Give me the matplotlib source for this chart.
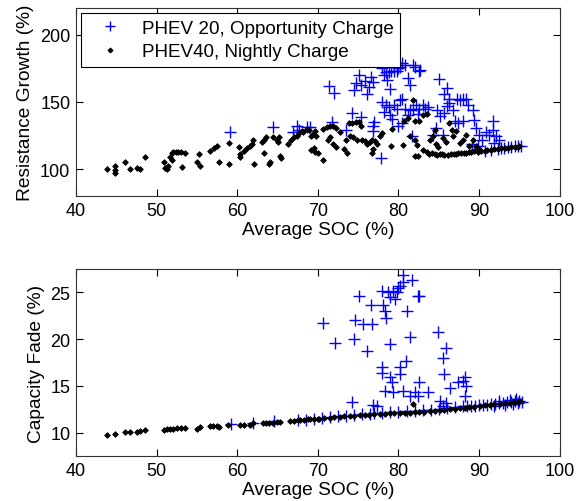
import matplotlib
matplotlib.use("Agg")
import matplotlib.pyplot as plt

plt.rcParams['font.family'] = ['Liberation Sans', 'DejaVu Sans']

# ---------------- Top panel: Resistance growth ----------------
top_black_soc = [43.9, 44.8, 44.8, 44.9, 46.1, 46.7, 47.6, 48.0, 48.6,
                 50.9, 51.1, 51.3, 51.4, 51.7, 51.9, 52.1, 52.4, 52.7, 53.0, 53.5, 51.9, 53.1,
                 55.0, 55.4, 55.3, 56.6, 57.1, 57.5, 57.8, 59.0, 59.0,
                 60.2, 60.3, 60.4, 60.8, 61.2, 61.6, 61.8, 62.0, 62.1,
                 63.1, 63.3, 63.6, 63.3, 64.0, 64.1, 64.5, 64.9, 65.1, 65.2, 65.3, 65.4,
                 66.3, 66.7, 67.0, 67.4, 67.7, 68.0, 68.2, 68.6, 68.9,
                 69.1, 69.4, 69.6, 69.8, 69.2, 69.5, 69.7, 70.0, 70.6,
                 70.7, 71.1, 71.5, 71.9, 72.3, 71.3, 71.5, 71.9, 72.3, 72.7,
                 73.3, 73.6, 73.5, 74.0, 74.4, 74.8, 73.9, 74.3, 74.7, 75.1, 75.3,
                 75.5, 75.9, 76.1, 76.5, 76.7, 77.1, 77.3, 76.7, 76.9, 77.7, 78.0, 79.1, 80.6,
                 80.7, 81.2, 79.2, 81.8, 82.1, 83.0, 81.4, 82.1, 82.3, 82.1, 82.4,
                 83.1, 83.5, 84.1, 84.5, 85.1, 85.7, 86.5, 87.1, 87.8, 88.4, 89.0, 89.9,
                 90.7, 91.5, 92.3, 93.2, 94.0, 94.8,
                 83.8, 84.8, 85.4, 86.1, 86.9, 87.4, 88.1, 88.8, 89.4, 90.2, 91.0, 91.8,
                 92.7, 93.6, 94.4, 95.0,
                 83.9, 84.3, 84.7, 84.9, 85.5, 85.9, 86.3, 86.7, 87.1, 87.6, 88.0, 88.4,
                 88.8, 89.2, 89.6, 90.0, 82.6, 83.5, 84.5, 86.6]
top_black_rg = [100, 102.5, 96.8, 99.3, 105, 100, 101, 100, 109,
                105, 100.5, 100, 102.5, 109, 111.7, 113, 113, 113, 113, 112, 106.7, 101.7,
                105, 102.5, 111, 113.7, 115.4, 117.4, 105, 104, 119.7,
                116.7, 111.2, 109, 113.7, 115.4, 117.4, 118.7, 122, 103.5,
                120.4, 122, 123.6, 112, 104, 105.5, 123.6, 121.6, 120, 123.6, 110, 108,
                119, 122, 123.6, 125, 126.6, 128.6, 127.9, 129.6, 129,
                125, 126, 128.6, 124.6, 114, 115.4, 113, 112, 106.7,
                130, 131.6, 132, 132, 130.3, 121.6, 124, 119, 116.7, 127.9,
                114.7, 112, 121.6, 124.6, 123.6, 122, 134, 134.6, 135.3, 135.3, 132,
                122, 120.8, 119, 120, 122, 120.8, 119, 112, 114.7, 124.6, 126.6, 117, 117.7,
                135.5, 138, 130, 151.5, 135.5, 140.3, 125, 121.6, 118, 109.5, 109.5,
                114, 112.7, 112, 111, 111, 110.3, 111, 111, 111.7, 111.7, 113, 113,
                113.4, 114.2, 115, 115.4, 116.2, 116.7,
                111.5, 110.5, 111.5, 110.8, 111.3, 112, 112, 112.5, 113.2, 113.5, 114, 114.8,
                115.6, 116, 116.4, 117,
                121.6, 124.6, 119, 116.7, 122.9, 120.4, 134.3, 124.6, 128.4, 119.6, 122, 125.7,
                117, 122, 117, 114.7, 136, 141, 129, 129]

top_blue_soc = [59.1, 64.5, 66.9, 67.4, 67.7, 68.7, 69.0,
                71.4, 72.0, 71.8, 73.5, 74.2,
                74.5, 74.7, 75.1, 75.4, 75.8, 76.1, 76.4, 76.6, 76.8,
                75.4, 76.8, 77.0, 76.8, 77.8,
                78.0, 78.2, 78.4, 78.6, 78.8, 79.1, 79.4, 79.8, 80.0, 80.2, 80.4, 80.8,
                81.2, 81.4, 81.8, 82.1, 82.5, 82.7, 79.0,
                78.0, 78.2, 78.4, 78.8, 79.0, 79.2, 79.4, 79.8, 80.2, 80.4, 80.8, 81.2,
                81.4, 81.8, 82.2, 82.6, 83.0, 83.3, 83.7,
                80.0, 80.4, 81.7, 82.4,
                85.0, 85.6, 86.0, 86.3,
                84.8, 85.2, 85.6, 86.0, 86.3, 86.8,
                87.2, 87.6, 88.0, 88.4, 88.6, 89.2, 89.4,
                87.0, 87.4, 88.0,
                89.6, 90.0, 90.4, 90.8, 91.2, 91.7, 91.7, 92.1, 92.5, 91.9,
                89.1, 89.9, 84.3, 84.7, 85.5,
                90.7, 91.5, 92.3, 93.1, 94.0, 94.8, 95.2, 93.6, 94.4, 92.7]
top_blue_rg = [128, 131.6, 128, 132, 129, 131.6, 131.6,
               162, 157, 135, 129, 141.5,
               159, 164, 170, 163, 165.7, 156, 161, 168.7, 165,
               139, 132, 135.3, 128.4, 108,
               175, 170, 172, 166, 172, 173, 173, 173, 175, 176, 179, 177.5,
               167.5, 162.5, 177.5, 176, 173, 173.5, 160,
               150, 142.5, 147.5, 146.3, 140, 137.5, 147.5, 145, 151.3, 152.5, 145, 140,
               143.8, 145, 147.5, 145, 147.5, 145, 146.3,
               132, 134.6, 124.6, 140.8,
               167, 155.6, 160.7, 152,
               144.3, 139.3, 141.8, 146.8, 149.3, 144.3,
               152.5, 151.3, 152.5, 152.5, 147.5, 143.8, 136.3,
               135.5, 134.3, 135.5,
               130.6, 125.7, 122, 128, 125.7, 135.5, 129.3, 124.4, 122, 119.6,
               118.4, 117.2, 125.7, 130.6, 125.7,
               113.7, 114.4, 114.9, 115.7, 116.2, 116.9, 117.2, 116.5, 117, 116]

# ---------------- Bottom panel: Capacity fade ----------------
bot_black_soc = [43.9, 44.8, 46.1, 46.7, 47.6, 48.0, 48.6, 50.9, 51.3, 51.7, 52.0, 52.5, 53.0, 53.5,
                 55.0, 55.4, 56.6, 57.0, 57.5, 57.8, 58.9, 60.3, 60.8, 61.6, 62.0, 63.2, 63.6,
                 64.0, 64.5, 65.0, 65.3, 66.5, 67.0, 67.5, 67.8, 68.3, 68.8, 69.0, 69.5, 70.0,
                 70.2, 70.8, 71.5, 72.0, 72.7, 73.2, 74.0, 74.5, 75.2, 75.8, 76.4, 77.0, 77.7,
                 78.3, 78.9, 79.5, 80.2, 80.8, 81.4, 81.8, 82.0, 82.6, 83.2, 83.9, 84.5, 85.1,
                 85.7, 86.4, 87.0, 87.6, 88.2, 88.8, 89.4, 90.1, 90.7, 91.3, 91.9, 92.6,
                 93.2, 93.8, 94.3, 94.8, 95.1]
bot_black_cf = [9.8, 9.9, 10.07, 10.1, 10.1, 10.15, 10.25, 10.3, 10.35, 10.4, 10.4, 10.45, 10.45, 10.46,
                10.4, 10.6, 10.7, 10.7, 10.72, 10.65, 10.8, 10.8, 10.83, 10.86, 11.0, 11.07, 11.05,
                11.07, 11.07, 11.1, 11.14, 11.25, 11.28, 11.32, 11.36, 11.4, 11.42, 11.43, 11.45, 11.48,
                11.5, 11.55, 11.6, 11.65, 11.7, 11.73, 11.8, 11.82, 11.86, 11.9, 11.93, 11.96, 12.0,
                12.03, 12.07, 12.1, 12.14, 12.15, 12.14, 13.1, 12.18, 12.2, 12.25, 12.3, 12.35, 12.4,
                12.45, 12.5, 12.55, 12.6, 12.65, 12.7, 12.78, 12.86, 12.93, 13.0, 13.05, 13.1,
                13.15, 13.2, 13.25, 13.3, 13.35]

bot_blue_soc = [70.7, 72.1, 75.1, 74.6, 74.5, 75.6, 76.7, 76.6, 76.1, 74.2,
                77.9, 78.1, 78.3, 78.4, 78.7, 79.0, 79.3, 79.6, 79.8, 80.0, 80.2, 80.5, 80.5,
                81.0, 81.7, 81.4, 82.4, 82.6, 78.9, 77.9, 77.9, 79.0, 79.2, 80.2, 80.2, 80.9,
                78.3, 79.3, 80.6, 81.4, 82.0, 82.4, 82.6, 83.7, 76.9, 77.3,
                84.9, 85.5, 85.9, 85.7, 86.4, 87.4, 88.0, 88.2, 88.4, 88.2, 85.1, 85.9,
                59.2, 62.0, 64.6, 67.5, 68.5, 69.5, 70.5, 71.5, 72.5, 73.5, 74.5, 75.5, 76.5,
                77.0, 78.0, 79.0, 80.0, 81.0, 82.0, 83.0, 84.0, 85.0, 85.5, 86.0, 87.0, 88.0,
                88.5, 89.0, 89.5, 90.0, 90.5, 91.0, 91.5, 92.0, 92.5, 93.0, 93.5, 94.0, 94.5,
                95.0, 95.3, 91.8, 93.2, 94.2, 94.8, 92.5, 93.8, 94.6]
bot_blue_cf = [21.7, 19.6, 24.6, 22.1, 20.0, 21.6, 21.6, 23.6, 18.75, 13.3,
               25.2, 23.6, 23.0, 22.3, 25.0, 24.5, 25.2, 24.3, 25.0, 25.5, 25.7, 26.1, 26.9,
               23.0, 26.3, 20.2, 24.6, 24.6, 19.5, 17.0, 16.4, 15.9, 15.4, 17.0, 16.25, 17.7,
               14.5, 14.3, 14.5, 13.9, 14.3, 13.9, 15.4, 14.3, 13.0, 12.9,
               20.8, 18.0, 19.1, 16.25, 14.8, 15.4, 15.5, 15.9, 15.0, 13.9, 13.4, 13.2,
               10.9, 11.0, 11.2, 11.35, 11.4, 11.5, 11.55, 11.65, 11.75, 11.8, 11.9, 12.0, 12.0,
               12.1, 12.1, 12.2, 12.2, 12.3, 12.3, 12.4, 12.45, 12.55, 12.9, 12.6, 12.7, 12.8,
               12.8, 12.9, 12.85, 12.95, 13.0, 13.0, 13.1, 13.1, 13.2, 13.2, 13.3, 13.3, 13.4,
               13.4, 13.3, 12.9, 13.0, 13.1, 13.2, 13.4, 13.5, 13.55]

label_blue = "PHEV 20, Opportunity Charge"
label_black = "PHEV40, Nightly Charge"
xticks = [40, 50, 60, 70, 80, 90, 100]
top_yticks = [100, 150, 200]
bot_yticks = [10, 15, 20, 25]

fig = plt.figure(figsize=(5.88, 5.02), dpi=100)
ax1 = fig.add_axes([0.129, 0.6076, 0.823, 0.3745])
ax2 = fig.add_axes([0.129, 0.0896, 0.823, 0.3725])

fs_tick = 13
fs_lab = 13.8
blue_kw = dict(linestyle='none', marker='+', color=(0, 0, 1), markersize=8, markeredgewidth=1.0)
black_kw = dict(linestyle='none', marker='D', color='black', markersize=2.9, markeredgewidth=0.6)

ax1.plot(top_blue_soc, top_blue_rg, label=label_blue, **blue_kw)
ax1.plot(top_black_soc, top_black_rg, label=label_black, **black_kw)
ax2.plot(bot_blue_soc, bot_blue_cf, **blue_kw)
ax2.plot(bot_black_soc, bot_black_cf, **black_kw)

for ax, yt, ylim, ylab in [(ax1, top_yticks, (80, 220), "Resistance Growth (%)"),
                           (ax2, bot_yticks, (7.5, 27.5), "Capacity Fade (%)")]:
    ax.set_xlim(40, 100)
    ax.set_ylim(*ylim)
    ax.set_xticks(xticks)
    ax.set_yticks(yt)
    ax.tick_params(direction='in', top=True, right=True, labelsize=fs_tick, length=5, width=0.8,
                   pad=4)
    ax.set_xlabel("Average SOC (%)", fontsize=fs_lab, labelpad=2)
    ax.set_ylabel(ylab, fontsize=fs_lab, labelpad=4)
    for s in ax.spines.values():
        s.set_linewidth(0.8)
        s.set_color('#333333')

leg = ax1.legend(loc='upper left', fontsize=13.6, frameon=True, fancybox=False,
                 edgecolor='black', framealpha=1, borderaxespad=0.25, handletextpad=0.5,
                 handlelength=2.4, borderpad=0.35, labelspacing=0.35, markerscale=0.9)
leg.get_frame().set_linewidth(0.8)

fig.savefig("out.png", dpi=100)
